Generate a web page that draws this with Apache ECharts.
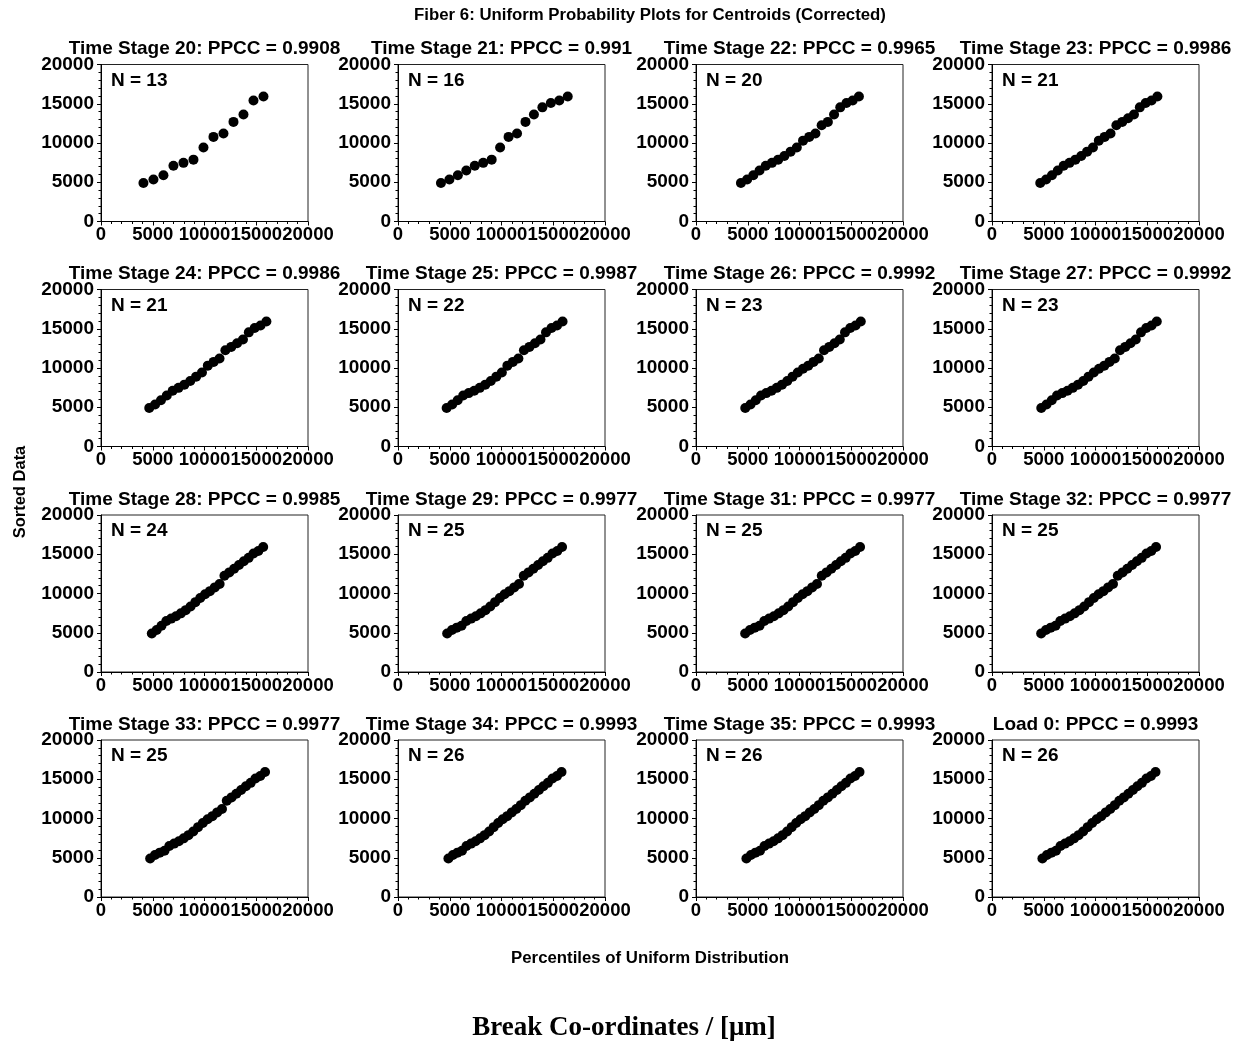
<!DOCTYPE html>
<html>
<head>
<meta charset="utf-8">
<script src="https://cdn.jsdelivr.net/npm/echarts@6/dist/echarts.min.js"></script>
<style>
  html, body { margin: 0; padding: 0; background: #fff; }
  #chart { width: 1247px; height: 1042px; }
</style>
</head>
<body>
<div id="chart"></div>
<script>
// Panel headings, in reading order (4 x 4)
const panelNames = [
  'Time Stage 20', 'Time Stage 21', 'Time Stage 22', 'Time Stage 23',
  'Time Stage 24', 'Time Stage 25', 'Time Stage 26', 'Time Stage 27',
  'Time Stage 28', 'Time Stage 29', 'Time Stage 31', 'Time Stage 32',
  'Time Stage 33', 'Time Stage 34', 'Time Stage 35', 'Load 0'
];
const ppccValues = [
  '0.9908', '0.991', '0.9965', '0.9986',
  '0.9986', '0.9987', '0.9992', '0.9992',
  '0.9985', '0.9977', '0.9977', '0.9977',
  '0.9977', '0.9993', '0.9993', '0.9993'
];

// Axis ticks (both axes)
const axisMin = 0;
const axisMax = 20000;
const axisStep = 5000;

// Percentiles of the uniform distribution (x) for each sample size
const pct13 = [4100, 5067, 6033, 7000, 7967, 8933, 9900, 10867, 11833, 12800, 13767, 14733, 15700];
const pct16 = [4150, 4967, 5783, 6600, 7417, 8233, 9050, 9867, 10683, 11500, 12317, 13133, 13950, 14767, 15583, 16400];
const pct20 = [4340, 4940, 5540, 6140, 6740, 7340, 7940, 8540, 9140, 9740, 10340, 10940, 11540, 12140, 12740, 13340, 13940, 14540, 15140, 15740];
const pct21 = [4660, 5226, 5792, 6358, 6924, 7490, 8056, 8622, 9188, 9754, 10320, 10886, 11452, 12018, 12584, 13150, 13716, 14282, 14848, 15414, 15980];
const pct22 = [4700, 5233, 5767, 6300, 6833, 7367, 7900, 8433, 8967, 9500, 10033, 10567, 11100, 11633, 12167, 12700, 13233, 13767, 14300, 14833, 15367, 15900];
const pct23 = [4760, 5267, 5775, 6282, 6789, 7296, 7804, 8311, 8818, 9325, 9833, 10340, 10847, 11355, 11862, 12369, 12876, 13384, 13891, 14398, 14905, 15413, 15920];
const pct24 = [4910, 5378, 5846, 6313, 6781, 7249, 7717, 8185, 8653, 9120, 9588, 10056, 10524, 10992, 11460, 11927, 12395, 12863, 13331, 13799, 14267, 14734, 15202, 15670];
const pct25 = [4750, 5213, 5675, 6138, 6600, 7063, 7525, 7988, 8450, 8913, 9375, 9838, 10300, 10763, 11225, 11688, 12150, 12613, 13075, 13538, 14000, 14463, 14925, 15388, 15850];
const pct26 = [4870, 5307, 5744, 6182, 6619, 7056, 7493, 7930, 8368, 8805, 9242, 9679, 10116, 10554, 10991, 11428, 11865, 12302, 12740, 13177, 13614, 14051, 14488, 14926, 15363, 15800];

// Sorted break centroids (y) per stage
const sorted20 = [4900, 5360, 5890, 7100, 7470, 7880, 9430, 10780, 11210, 12690, 13640, 15420, 15930];
const sorted21 = [4900, 5360, 5890, 6500, 7100, 7470, 7880, 9430, 10780, 11210, 12690, 13640, 14540, 15100, 15420, 15930];
const sorted22 = [4900, 5360, 5890, 6500, 7100, 7470, 7880, 8350, 8900, 9430, 10300, 10780, 11210, 12250, 12690, 13640, 14540, 15100, 15420, 15930];
const sorted23 = [4900, 5360, 5890, 6500, 7100, 7470, 7880, 8350, 8900, 9430, 10300, 10780, 11210, 12250, 12690, 13150, 13640, 14540, 15100, 15420, 15930];
const sorted25 = [4900, 5360, 5890, 6500, 6800, 7100, 7470, 7880, 8350, 8900, 9430, 10300, 10780, 11210, 12250, 12690, 13150, 13640, 14540, 15100, 15420, 15930];
const sorted26 = [4900, 5360, 5890, 6500, 6800, 7100, 7470, 7880, 8350, 8900, 9430, 9900, 10300, 10780, 11210, 12250, 12690, 13150, 13640, 14540, 15100, 15420, 15930];
const sorted28 = [4900, 5360, 5890, 6500, 6800, 7100, 7470, 7880, 8350, 8900, 9430, 9900, 10300, 10780, 11210, 12250, 12690, 13150, 13640, 14100, 14540, 15100, 15420, 15930];
const sorted29 = [4900, 5360, 5650, 5890, 6500, 6800, 7100, 7470, 7880, 8350, 8900, 9430, 9900, 10300, 10780, 11210, 12250, 12690, 13150, 13640, 14100, 14540, 15100, 15420, 15930];
const sorted34 = [4900, 5360, 5650, 5890, 6500, 6800, 7100, 7470, 7880, 8350, 8900, 9430, 9900, 10300, 10780, 11210, 11700, 12250, 12690, 13150, 13640, 14100, 14540, 15100, 15420, 15930];

const panelX = [pct13, pct16, pct20, pct21, pct21, pct22, pct23, pct23, pct24, pct25, pct25, pct25, pct25, pct26, pct26, pct26];
const panelY = [sorted20, sorted21, sorted22, sorted23, sorted23, sorted25, sorted26, sorted26, sorted28, sorted29, sorted29, sorted29, sorted29, sorted34, sorted34, sorted34];

// Layout of the 4 x 4 panel grid (pixels)
const colLeft = [101, 398, 696, 992];
const rowTop = [64.5, 289.5, 515, 740];
const plotW = 207;
const plotH = 157;

const sansFont = '"Liberation Sans", Arial, sans-serif';
const serifFont = '"Liberation Serif", "Times New Roman", serif';

const grids = [], xAxes = [], yAxes = [], series = [], texts = [];

function axisCommon(i) {
  return {
    gridIndex: i,
    type: 'value',
    min: axisMin,
    max: axisMax,
    interval: axisStep,
    axisLine: { show: true, onZero: false, lineStyle: { color: '#000', width: 1 } },
    axisTick: { show: true, inside: false, length: 4, lineStyle: { color: '#000', width: 1 } },
    minorTick: { show: true, splitNumber: 5, length: 2.5, lineStyle: { color: '#000', width: 1 } },
    splitLine: { show: false },
    minorSplitLine: { show: false },
    axisLabel: {
      color: '#000',
      fontSize: 19,
      fontWeight: 'bold',
      fontFamily: sansFont,
      formatter: v => String(v),
      showMinLabel: true,
      showMaxLabel: true,
      hideOverlap: false
    }
  };
}

panelNames.forEach((name, i) => {
  const left = colLeft[i % 4];
  const top = rowTop[Math.floor(i / 4)];

  grids.push({
    left: left, top: top, width: plotW, height: plotH,
    show: true, borderColor: '#222', borderWidth: 1,
    backgroundColor: 'transparent',
    containLabel: false, outerBoundsMode: 'none'
  });

  // x labels sit shoulder to shoulder on a 207px axis; a hair smaller keeps all five drawn
  const xa = axisCommon(i);
  xa.axisLabel.margin = 4;
  xa.axisLabel.fontSize = 18.5;
  xAxes.push(xa);

  const ya = axisCommon(i);
  ya.axisLabel.margin = 7;
  yAxes.push(ya);

  const xs = panelX[i], ys = panelY[i];
  series.push({
    type: 'scatter',
    xAxisIndex: i,
    yAxisIndex: i,
    symbol: 'circle',
    symbolSize: 10,
    itemStyle: { color: '#000', opacity: 1 },
    silent: true,
    data: xs.map((x, k) => [x, ys[k]])
  });

  texts.push({
    type: 'text',
    silent: true,
    style: {
      text: name + ': PPCC = ' + ppccValues[i],
      x: left + plotW / 2, y: top - 15.5,
      align: 'center', verticalAlign: 'middle',
      textAlign: 'center', textVerticalAlign: 'middle',
      font: 'bold 19px ' + sansFont, fill: '#000'
    }
  });
  texts.push({
    type: 'text',
    silent: true,
    style: {
      text: 'N = ' + ys.length,
      x: left + 10, y: top + 16,
      align: 'left', verticalAlign: 'middle',
      textAlign: 'left', textVerticalAlign: 'middle',
      font: 'bold 19px ' + sansFont, fill: '#000'
    }
  });
});

// Figure-level headings
texts.push({
  type: 'text', silent: true,
  style: {
    text: 'Fiber 6: Uniform Probability Plots for Centroids (Corrected)',
    x: 650, y: 15, align: 'center', verticalAlign: 'middle',
    textAlign: 'center', textVerticalAlign: 'middle',
    font: 'bold 16.8px ' + sansFont, fill: '#000'
  }
});
texts.push({
  type: 'text', silent: true,
  rotation: Math.PI / 2, x: 20, y: 492,
  style: {
    text: 'Sorted Data', x: 0, y: 0,
    align: 'center', verticalAlign: 'middle',
    textAlign: 'center', textVerticalAlign: 'middle',
    font: 'bold 16.5px ' + sansFont, fill: '#000'
  }
});
texts.push({
  type: 'text', silent: true,
  style: {
    text: 'Percentiles of Uniform Distribution',
    x: 650, y: 958, align: 'center', verticalAlign: 'middle',
    textAlign: 'center', textVerticalAlign: 'middle',
    font: 'bold 16.8px ' + sansFont, fill: '#000'
  }
});
texts.push({
  type: 'text', silent: true,
  style: {
    text: 'Break Co-ordinates / [μm]',
    x: 624, y: 1028, align: 'center', verticalAlign: 'middle',
    textAlign: 'center', textVerticalAlign: 'middle',
    font: 'bold 27px ' + serifFont, fill: '#000'
  }
});

const chart = echarts.init(document.getElementById('chart'), null, { renderer: 'canvas' });
chart.setOption({
  animation: false,
  backgroundColor: '#fff',
  grid: grids,
  xAxis: xAxes,
  yAxis: yAxes,
  series: series,
  graphic: texts
});
</script>
</body>
</html>
